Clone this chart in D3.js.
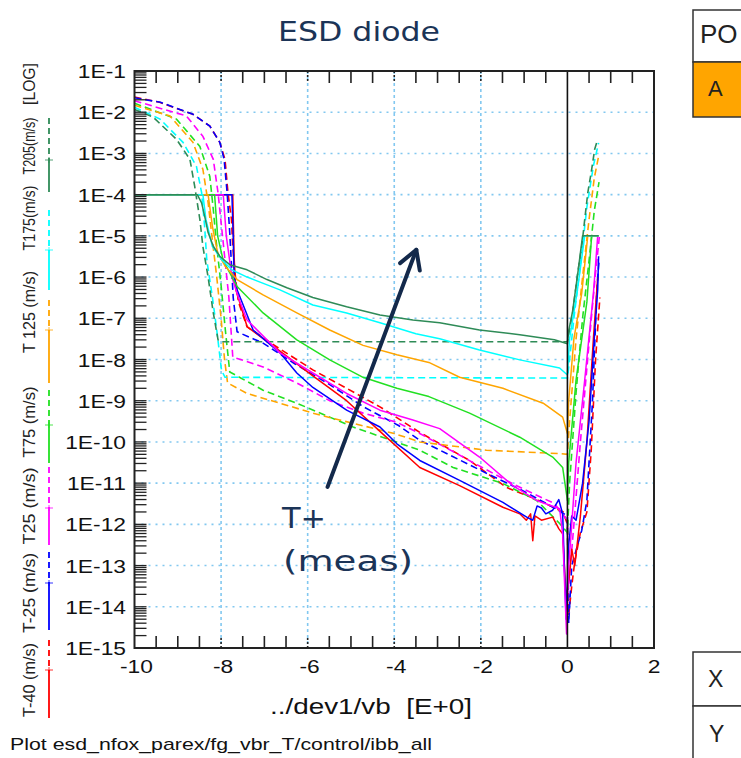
<!DOCTYPE html>
<html>
<head>
<meta charset="utf-8">
<script src="https://cdn.jsdelivr.net/npm/d3@7"></script>
<style>
  body { margin: 0; background: #fff; }
  svg { display: block; }
</style>
</head>
<body>
<svg id="chart" width="741" height="758"></svg>
<script>
// ---- Data: reverse/forward diode current |I| (A) vs bias vb (V) ----
const seriesNames = ["T205", "T175", "T125", "T75", "T25", "T-25", "T-40"];
const legendLabels = ["T205(m/s)", "T175(m/s)", "T 125 (m/s)", "T75 (m/s)", "T25 (m/s)", "T-25 (m/s)", "T-40 (m/s)"];

// measured curves (solid); compliance at 1e-4 A reverse and 1e-5 A forward
const measT205 = [[-10,1e-4],[-8.55,1e-4],[-8.45,6.3e-5],[-8.38,3.0e-5],[-8.3,1.2e-5],[-8.18,5.6e-6],[-8.03,3.2e-6],[-7.8,2.0e-6],[-7.4,1.5e-6],[-6.94,8.7e-7],[-6.48,5.5e-7],[-5.88,3.2e-7],[-5.1,1.9e-7],[-4.33,1.2e-7],[-3.57,9.1e-8],[-2.95,7.8e-8],[-2.03,5.2e-8],[-1.1,4.0e-8],[-0.3,3.0e-8],[0,2.4e-8],[0.03,5e-8],[0.12,1.5e-7],[0.25,1.5e-6],[0.35,1e-5],[0.72,1e-5]];
const measT175 = [[-10,1e-4],[-8.42,1e-4],[-8.35,2.5e-5],[-8.2,5.5e-6],[-7.98,2.6e-6],[-7.75,1.5e-6],[-7.4,1.0e-6],[-6.64,4.9e-7],[-5.88,2.1e-7],[-5.1,1.35e-7],[-4.33,7.8e-8],[-3.5,4.2e-8],[-2.95,3.2e-8],[-2.03,1.7e-8],[-1.1,9.8e-9],[-0.18,6.2e-9],[0,4.2e-9],[0.05,3.2e-8],[0.22,4.0e-7],[0.4,1e-5],[0.72,1e-5]];
const measT125 = [[-10,1e-4],[-8.3,1e-4],[-8.2,1.7e-5],[-8.08,3.9e-6],[-7.9,1.8e-6],[-7.63,8.7e-7],[-7.03,3.7e-7],[-6.25,1.35e-7],[-5.49,5.2e-8],[-4.72,2.2e-8],[-3.94,1.3e-8],[-3.2,8.5e-9],[-2.49,3.7e-9],[-1.49,2.0e-9],[-0.56,8.7e-10],[-0.11,4.0e-10],[0,1.6e-10],[0.03,1e-9],[0.15,3.2e-8],[0.33,4.0e-7],[0.47,1e-5],[0.72,1e-5]];
const measT75 = [[-10,1e-4],[-8.15,1e-4],[-8.08,1e-5],[-7.95,2.5e-6],[-7.63,5.9e-7],[-7.03,1.35e-7],[-6.25,3.0e-8],[-5.49,9.8e-9],[-4.72,3.7e-9],[-3.94,2.0e-9],[-3.2,1.26e-9],[-2.26,5.0e-10],[-1.1,1.3e-10],[-0.34,4.3e-11],[-0.11,2.4e-11],[0,3.8e-12],[0.03,3.2e-11],[0.2,3.2e-9],[0.45,2.5e-7],[0.56,1e-5],[0.72,1e-5]];
const measT25 = [[-10,1e-4],[-7.95,1e-4],[-7.88,1e-5],[-7.75,1e-6],[-7.6,3.2e-7],[-7.4,9.1e-8],[-6.64,1.45e-8],[-5.88,4.7e-9],[-5.1,1.5e-9],[-4.33,5.9e-10],[-3.57,3.4e-10],[-2.95,2.1e-10],[-2.03,4.3e-11],[-1.26,8.7e-12],[-0.71,3.8e-12],[-0.18,2.4e-12],[-0.11,5.9e-13],[-0.02,2.2e-15],[0.03,1e-13],[0.08,5.0e-13],[0.2,3.2e-11],[0.4,3.2e-9],[0.6,4.0e-7],[0.7,1e-5],[0.72,1e-5]];
const measTm25 = [[-10,1e-4],[-7.75,1e-4],[-7.72,1e-5],[-7.7,1e-6],[-7.63,4.9e-7],[-7.26,5.2e-8],[-6.64,1.45e-8],[-6.25,4.7e-9],[-5.88,2.1e-9],[-5.1,5.9e-10],[-4.33,2.3e-10],[-3.94,9e-11],[-3.41,3.55e-11],[-2.49,1.17e-11],[-1.49,3.4e-12],[-0.94,1.5e-12],[-0.8,1.26e-12],[-0.7,2.8e-12],[-0.6,2.5e-12],[-0.5,1.8e-12],[-0.34,2.2e-12],[-0.2,4.0e-12],[-0.11,1.8e-12],[-0.03,5e-15],[0.03,3.2e-13],[0.1,1.6e-12],[0.2,1.26e-12],[0.35,1e-11],[0.5,3.2e-10],[0.62,3.2e-8],[0.7,5e-7],[0.72,3.2e-6]];
const measTm40 = [[-10,1e-4],[-7.73,1e-4],[-7.7,3.2e-6],[-7.66,5.0e-7],[-7.4,6.3e-8],[-6.64,1.6e-8],[-5.88,4.0e-9],[-5.1,1.0e-9],[-4.33,1.8e-10],[-3.41,2.4e-11],[-2.49,8.7e-12],[-1.49,2.6e-12],[-1.1,1.8e-12],[-0.95,1.26e-12],[-0.85,1.8e-12],[-0.8,4.0e-13],[-0.75,1.6e-12],[-0.6,1.26e-12],[-0.34,1.5e-12],[-0.2,7.9e-13],[-0.11,5.9e-13],[-0.03,1.6e-14],[0.05,6.3e-14],[0.1,2.5e-13],[0.17,1e-13],[0.3,1.6e-12],[0.45,1e-10],[0.6,3.2e-8],[0.7,1e-6]];

// simulated curves (dashed)
const simT205 = [[-10,1.17e-2],[-9.57,7.6e-3],[-9.03,2.2e-3],[-8.72,7.2e-4],[-8.61,1.6e-4],[-8.49,2.5e-5],[-8.42,5.5e-6],[-8.3,1e-6],[-8.18,1.35e-7],[-8.07,3.0e-8],[-8.0,2.7e-8],[0,2.7e-8],[0.12,1.35e-7],[0.24,1.3e-6],[0.33,5.5e-6],[0.4,2.5e-5],[0.47,1.1e-4],[0.56,4.1e-4],[0.63,1.26e-3],[0.7,2.2e-3]];
const simT175 = [[-10,1.32e-2],[-9.41,6.8e-3],[-8.88,1.86e-3],[-8.57,4.9e-4],[-8.45,1.12e-4],[-8.38,1.7e-5],[-8.33,2.6e-6],[-8.2,3.2e-7],[-8.1,5.2e-8],[-7.99,5.5e-9],[-7.91,3.7e-9],[0,3.55e-9],[0.05,1e-8],[0.15,1e-7],[0.3,2.0e-6],[0.45,5.0e-5],[0.6,5.0e-4],[0.72,1.8e-3]];
const simT125 = [[-10,1.48e-2],[-9.18,8.1e-3],[-8.65,1.86e-3],[-8.42,4.1e-4],[-8.3,6.5e-5],[-8.21,9.5e-6],[-8.1,1e-6],[-8.0,1e-7],[-7.92,1e-8],[-7.85,2.7e-9],[-7.4,1.5e-9],[-6.64,8.7e-10],[-5.88,5.0e-10],[-5.26,3.4e-10],[-4.0,1.6e-10],[-3.41,1.0e-10],[-1.87,6.3e-11],[-0.18,5.2e-11],[0,5.0e-11],[0.05,3.2e-10],[0.2,3.2e-8],[0.35,1e-6],[0.5,2.5e-5],[0.62,2.5e-4],[0.72,8.5e-4]];
const simT75 = [[-10,1.66e-2],[-9.03,6.8e-3],[-8.49,1.48e-3],[-8.26,2.75e-4],[-8.18,4.4e-5],[-8.11,6.9e-6],[-8.0,6.3e-7],[-7.9,5.0e-8],[-7.8,5.0e-9],[-7.03,1.8e-9],[-6.25,8.7e-10],[-5.49,4.0e-10],[-4.95,2.3e-10],[-3.41,6.3e-11],[-2.64,2.4e-11],[-1.49,9.8e-12],[-0.71,3.8e-12],[-0.18,1.05e-12],[0,6.3e-13],[0.05,1e-11],[0.2,1.6e-9],[0.35,1e-7],[0.5,2.5e-6],[0.62,4.0e-5],[0.73,2.0e-4]];
const simT25 = [[-10,1.9e-2],[-8.8,8.1e-3],[-8.42,2.6e-3],[-8.18,7.2e-4],[-8.07,1.1e-4],[-7.99,1.7e-5],[-7.91,2.6e-6],[-7.82,3.2e-7],[-7.73,1.15e-8],[-7.03,6.6e-9],[-6.25,2.7e-9],[-5.49,1.0e-9],[-4.72,5.0e-10],[-3.94,3.0e-10],[-3.41,1.6e-10],[-2.0,2.5e-11],[-1.2,8.9e-12],[-0.3,3.2e-12],[0,1.26e-12],[0.03,3.2e-14],[0.15,1e-12],[0.3,1e-10],[0.5,2.5e-8],[0.65,1.26e-6],[0.74,1e-5]];
const simTm25 = [[-10,2.24e-2],[-9.4,1.74e-2],[-8.65,8.9e-3],[-8.26,4.6e-3],[-8.03,1.86e-3],[-7.93,7.2e-4],[-7.86,1.1e-4],[-7.8,1.2e-5],[-7.75,1.26e-6],[-7.72,3.2e-7],[-7.63,4.7e-8],[-7.03,2.5e-8],[-6.3,7.9e-9],[-5.5,2.5e-9],[-4.7,7e-10],[-3.9,2.5e-10],[-3.41,1.1e-10],[-1.87,1.74e-11],[-1.0,6.3e-12],[-0.3,2.5e-12],[0,1.6e-12],[0.03,4e-15],[0.1,1e-13],[0.33,7.1e-13],[0.45,3.8e-12],[0.58,1.0e-9],[0.68,5e-7],[0.73,2.5e-6]];
const simTm40 = [[-10,2.34e-2],[-9.42,1.74e-2],[-8.65,8.9e-3],[-8.26,4.6e-3],[-8.03,1.86e-3],[-7.91,7.2e-4],[-7.84,1.1e-4],[-7.76,2.5e-5],[-7.73,5.5e-6],[-7.68,1.3e-6],[-7.6,2.5e-7],[-7.4,6.2e-8],[-6.64,1.8e-8],[-5.88,5.6e-9],[-5.1,2.0e-9],[-4.33,7.1e-10],[-3.41,1.7e-10],[-2.26,3.55e-11],[-1.41,7.9e-12],[-0.71,4.0e-12],[-0.1,2.0e-12],[0,1e-12],[0.03,6.3e-15],[0.1,3.2e-14],[0.17,1.26e-13],[0.3,6.3e-13],[0.45,2.0e-12],[0.55,6.3e-11],[0.65,1e-8],[0.75,3.2e-7]];

const measured = [measT205, measT175, measT125, measT75, measT25, measTm25, measTm40];
const simulated = [simT205, simT175, simT125, simT75, simT25, simTm25, simTm40];

// axis ticks
const xTickValues = [-10, -8, -6, -4, -2, 0, 2];
const yDecades = [-1, -2, -3, -4, -5, -6, -7, -8, -9, -10, -11, -12, -13, -14, -15];
const xGridValues = [-8, -6, -4, -2];

// ---- Styles ----
const seriesColor = {
  "T205": "#2e8b57", "T175": "#00ffff", "T125": "#ffa500", "T75": "#22e022",
  "T25": "#ff00ff", "T-25": "#0000ff", "T-40": "#ff0000"
};
const navy = "#13294b";
const labelFont = "'Liberation Sans', Arial, sans-serif";
const titleFont = "'DejaVu Sans', Verdana, sans-serif";
const stretch = 1.2;

const svg = d3.select("#chart");
const plot = { left: 134.5, right: 654, top: 71, bottom: 648 };

const x = d3.scaleLinear().domain([-10, 2]).range([plot.left, plot.right]);
const y = d3.scaleLog().domain([1e-15, 1e-1]).range([plot.bottom, plot.top]);

svg.append("defs").append("clipPath").attr("id", "plotClip")
  .append("rect")
  .attr("x", plot.left).attr("y", plot.top)
  .attr("width", plot.right - plot.left).attr("height", plot.bottom - plot.top);

function stretchedText(parent, str, px, py, anchor, size, sx, family, fill) {
  return parent.append("text")
    .attr("transform", `translate(${px},${py}) scale(${sx},1)`)
    .attr("text-anchor", anchor)
    .attr("font-family", family)
    .attr("font-size", size)
    .attr("fill", fill)
    .text(str);
}

// ---- Title ----
svg.append("text")
  .attr("x", 278).attr("y", 41)
  .attr("font-family", titleFont).attr("font-size", 27)
  .attr("fill", "#1b3457")
  .attr("textLength", 162).attr("lengthAdjust", "spacingAndGlyphs")
  .text("ESD diode");

// ---- Grid ----
const grid = svg.append("g");
grid.selectAll("line.h").data(yDecades.filter(k => k < -1 && k > -15)).join("line")
  .attr("x1", plot.left).attr("x2", plot.right)
  .attr("y1", k => y(Math.pow(10, k))).attr("y2", k => y(Math.pow(10, k)))
  .attr("stroke", "#82c8f0").attr("stroke-width", 1.6)
  .attr("stroke-dasharray", "2,5");
grid.selectAll("line.v").data(xGridValues).join("line")
  .attr("x1", d => x(d)).attr("x2", d => x(d))
  .attr("y1", plot.top).attr("y2", plot.bottom)
  .attr("stroke", "#82c8f0").attr("stroke-width", 1.6)
  .attr("stroke-dasharray", "3,3");

// ---- Curves ----
const line = d3.line().x(d => x(d[0])).y(d => y(d[1]));
const curves = svg.append("g").attr("clip-path", "url(#plotClip)");
const order = d3.range(seriesNames.length).reverse();
order.forEach(i => {
  curves.append("path").datum(simulated[i])
    .attr("fill", "none").attr("stroke", seriesColor[seriesNames[i]])
    .attr("stroke-width", 1.6).attr("stroke-dasharray", "7,4")
    .attr("d", line);
});
order.forEach(i => {
  curves.append("path").datum(measured[i])
    .attr("fill", "none").attr("stroke", seriesColor[seriesNames[i]])
    .attr("stroke-width", 1.5).attr("stroke-linejoin", "round")
    .attr("d", line);
});

// zero-bias line
svg.append("line")
  .attr("x1", x(0)).attr("x2", x(0)).attr("y1", plot.top).attr("y2", plot.bottom)
  .attr("stroke", "#111").attr("stroke-width", 1.6);

// ---- Frame & ticks ----
const axes = svg.append("g").attr("stroke", "#222");
axes.append("rect")
  .attr("x", plot.left).attr("y", plot.top)
  .attr("width", plot.right - plot.left).attr("height", plot.bottom - plot.top)
  .attr("fill", "none").attr("stroke-width", 2);

const halfSteps = d3.range(-9.5, 2, 0.5).filter(v => Math.abs(v) > 1e-9);
const tickLen = 12;
halfSteps.forEach(v => {
  const isGrid = xGridValues.includes(v);
  [[plot.bottom, plot.bottom - tickLen], [plot.top, plot.top + tickLen]].forEach(([a, b]) => {
    axes.append("line")
      .attr("x1", x(v)).attr("x2", x(v)).attr("y1", a).attr("y2", b)
      .attr("stroke-width", 1.6)
      .attr("stroke-dasharray", isGrid ? "2,2" : null);
  });
});

const logTicks = [];
for (let k = -15; k < -1; k++) {
  for (let m = 1; m <= 9; m++) logTicks.push(m * Math.pow(10, k));
}
logTicks.filter(v => v > 1e-15 && v < 1e-1).forEach(v => {
  axes.append("line")
    .attr("x1", plot.left).attr("x2", plot.left + tickLen)
    .attr("y1", y(v)).attr("y2", y(v))
    .attr("stroke-width", 1.3);
});

// ---- Tick labels ----
const labels = svg.append("g");
yDecades.forEach(k => {
  stretchedText(labels, "1E" + k, 126, y(Math.pow(10, k)) + 7, "end", 19, stretch, labelFont, "#111");
});
xTickValues.forEach(v => {
  stretchedText(labels, String(v), x(v) + (v < 0 ? 2 : 0), 673, "middle", 19, stretch, labelFont, "#111");
});

svg.append("text")
  .attr("x", 270).attr("y", 714)
  .attr("font-family", labelFont).attr("font-size", 22).attr("fill", "#111")
  .attr("textLength", 202).attr("lengthAdjust", "spacingAndGlyphs")
  .attr("xml:space", "preserve")
  .text("../dev1/vb  [E+0]");

svg.append("text")
  .attr("x", 10).attr("y", 750)
  .attr("font-family", labelFont).attr("font-size", 17).attr("fill", "#111")
  .attr("textLength", 422).attr("lengthAdjust", "spacingAndGlyphs")
  .text("Plot esd_nfox_parex/fg_vbr_T/control/ibb_all");

// ---- Legend (vertical, left side) ----
const legend = svg.append("g");
const legendTextCenters = [146, 218, 312, 422, 506, 593, 680];
const legendSampleTops = [118, 210, 300, 390, 467, 552, 640];
const legendSampleBottoms = [192, 290, 383, 463, 545, 630, 718];
const legendMarkerY = [160, 250, 330, 425, 508, 583, 670];
function legendText(str, cy, len) {
  const t = legend.append("text")
    .attr("transform", `translate(35,${cy}) rotate(-90) scale(1,1.25)`)
    .attr("text-anchor", "middle")
    .attr("font-family", labelFont).attr("font-size", 13).attr("fill", "#222")
    .text(str);
  if (len) t.attr("textLength", len).attr("lengthAdjust", "spacingAndGlyphs");
  return t;
}
legendText("[LOG]", 84, 42);
const legendTextLengths = [57, 65, 82, 71, 77, 80, 74];
seriesNames.forEach((name, i) => {
  const c = seriesColor[name];
  legendText(legendLabels[i], legendTextCenters[i], legendTextLengths[i]);
  const lx = 49;
  legend.append("line")
    .attr("x1", lx).attr("x2", lx)
    .attr("y1", legendSampleTops[i]).attr("y2", legendMarkerY[i])
    .attr("stroke", c).attr("stroke-width", 1.8).attr("stroke-dasharray", "6,4");
  legend.append("line")
    .attr("x1", lx).attr("x2", lx)
    .attr("y1", legendMarkerY[i]).attr("y2", legendSampleBottoms[i])
    .attr("stroke", c).attr("stroke-width", 1.8);
  legend.append("path")
    .attr("d", `M${lx - 4},${legendMarkerY[i]}H${lx + 4}M${lx},${legendMarkerY[i] - 3}V${legendMarkerY[i] + 3}`)
    .attr("stroke", c).attr("stroke-width", 1).attr("opacity", 0.8);
});

// ---- Annotation arrow ----
const arrowFrom = [-5.54, 8.1e-12];
const arrowTo = [-3.49, 4.6e-6];
const ax0 = x(arrowFrom[0]), ay0 = y(arrowFrom[1]);
const ax1 = x(arrowTo[0]), ay1 = y(arrowTo[1]);
const ang = Math.atan2(ay1 - ay0, ax1 - ax0);
const head = 21, spread = Math.PI / 6;
svg.append("line")
  .attr("x1", ax0).attr("y1", ay0).attr("x2", ax1).attr("y2", ay1)
  .attr("stroke", navy).attr("stroke-width", 4).attr("stroke-linecap", "round");
svg.append("path")
  .attr("d", `M${ax1 - head * Math.cos(ang - spread)},${ay1 - head * Math.sin(ang - spread)}L${ax1},${ay1}L${ax1 - head * Math.cos(ang + spread)},${ay1 - head * Math.sin(ang + spread)}`)
  .attr("fill", "none").attr("stroke", navy).attr("stroke-width", 4)
  .attr("stroke-linecap", "round").attr("stroke-linejoin", "round");

svg.append("text")
  .attr("x", 282).attr("y", 528)
  .attr("font-family", titleFont).attr("font-size", 29).attr("fill", "#1b3457")
  .attr("textLength", 44).attr("lengthAdjust", "spacingAndGlyphs")
  .text("T+");
svg.append("text")
  .attr("x", 283).attr("y", 571)
  .attr("font-family", titleFont).attr("font-size", 29).attr("fill", "#1b3457")
  .attr("textLength", 130).attr("lengthAdjust", "spacingAndGlyphs")
  .text("(meas)");

// ---- Side table cells ----
const side = svg.append("g");
const cells = [
  { y0: 10, y1: 62, label: "PO", fill: "#fff", size: 26, tx: 700, ty: 43 },
  { y0: 62, y1: 117, label: "A", fill: "#ffa500", size: 22, tx: 708, ty: 96 },
  { y0: 652, y1: 706, label: "X", fill: "#fff", size: 23, tx: 708, ty: 687 },
  { y0: 706, y1: 770, label: "Y", fill: "#fff", size: 23, tx: 709, ty: 742 }
];
cells.forEach(c => {
  side.append("rect")
    .attr("x", 693).attr("y", c.y0).attr("width", 60).attr("height", c.y1 - c.y0)
    .attr("fill", c.fill).attr("stroke", "#333").attr("stroke-width", 1.5);
  side.append("text")
    .attr("x", c.tx).attr("y", c.ty)
    .attr("font-family", labelFont).attr("font-size", c.size).attr("fill", "#222")
    .text(c.label);
});
</script>
</body>
</html>
